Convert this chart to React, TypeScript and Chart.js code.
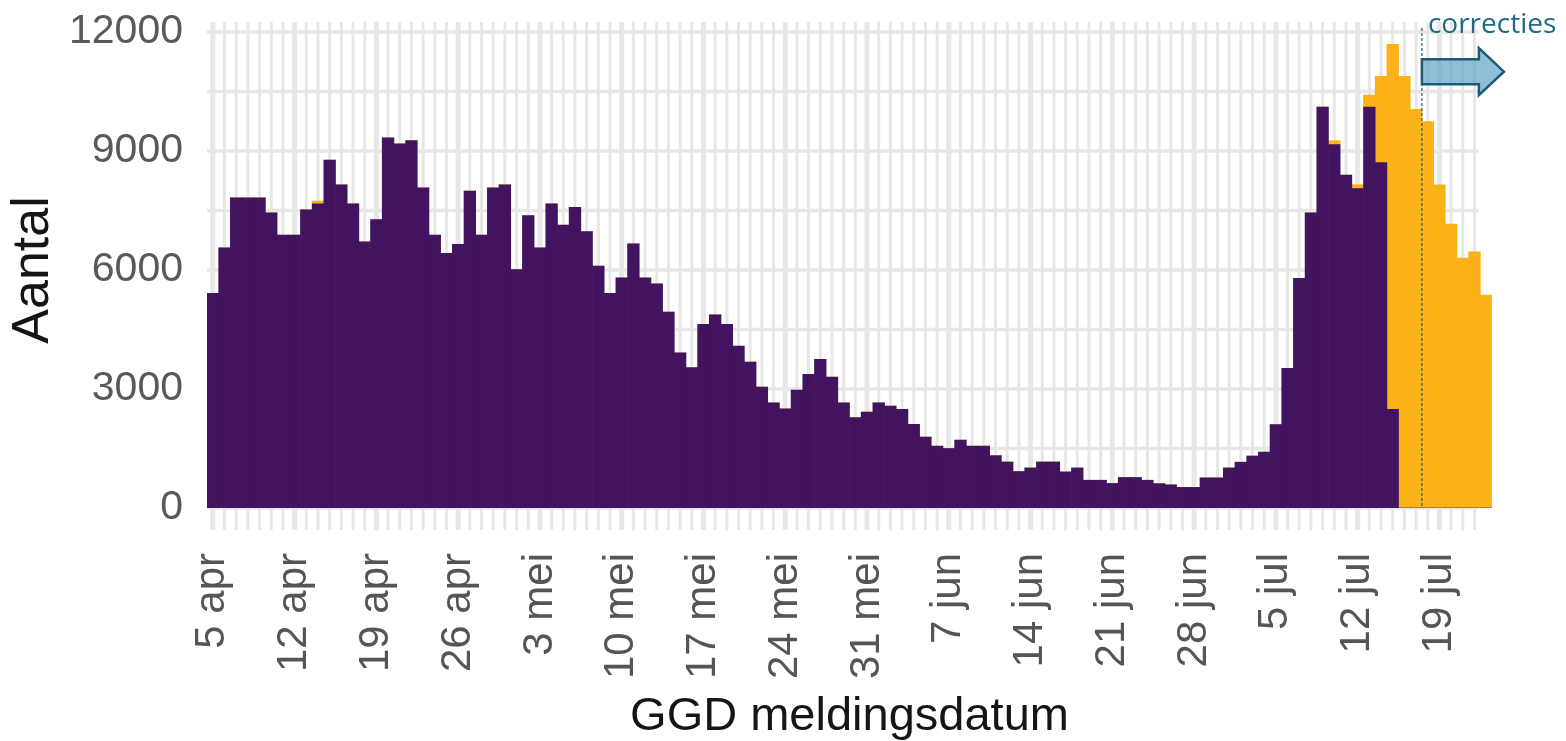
import React, { useEffect, useRef } from 'react';
import { Chart, registerables } from 'chart.js';

Chart.register(...registerables);

// Month spans of the daily categories: [month, first day, last day]
const monthSpans: [string, number, number][] = [
  ['apr', 5, 30],
  ['mei', 1, 31],
  ['jun', 1, 30],
  ['jul', 1, 23],
];
const days: string[] = [];
for (const [m, a, b] of monthSpans) for (let d = a; d <= b; d++) days.push(`${d} ${m}`);

const tickLabels = [
  '5 apr', '12 apr', '19 apr', '26 apr', '3 mei', '10 mei', '17 mei', '24 mei',
  '31 mei', '7 jun', '14 jun', '21 jun', '28 jun', '5 jul', '12 jul', '19 jul',
];

const yTickLabels = [0, 3000, 6000, 9000, 12000];

// Purple: cases reported (GGD meldingsdatum)
const gemeld = [
  5410, 6560, 7820, 7820, 7820, 7440, 6880, 6880, 7520, 7670,
  8770, 8150, 7670, 6710, 7270, 9330, 9180, 9260, 8070, 6880,
  6420, 6650, 7990, 6880, 8070, 8150, 6010, 7370, 6560, 7670,
  7130, 7580, 6970, 6100, 5410, 5800, 6660, 5800, 5650, 4940,
  3910, 3540, 4630, 4870, 4630, 4080, 3680, 3050, 2650, 2500,
  2970, 3370, 3750, 3300, 2650, 2280, 2420, 2650, 2570, 2490,
  2110, 1790, 1560, 1500, 1710, 1560, 1560, 1320, 1160, 920,
  1010, 1160, 1160, 910, 1010, 700, 700, 620, 770, 770,
  700, 615, 585, 520, 520, 760, 760, 1010, 1155, 1310,
  1410, 2100, 3520, 5790, 7440, 10110, 9160, 8390, 8050, 10110,
  8710, 2490, 0, 0, 0, 0, 0, 0, 0, 0,
];

// Orange: later corrections on top of the purple bars
const correcties = [
  0, 0, 0, 0, 0, 0, 0, 0, 0, 70,
  0, 0, 0, 0, 0, 0, 0, 0, 0, 0,
  0, 0, 0, 0, 0, 0, 0, 0, 0, 0,
  0, 0, 0, 0, 0, 0, 0, 0, 0, 0,
  0, 0, 0, 0, 0, 0, 0, 0, 0, 0,
  0, 0, 0, 0, 0, 0, 0, 0, 0, 0,
  0, 0, 0, 0, 0, 0, 0, 0, 0, 0,
  0, 0, 0, 0, 0, 0, 0, 0, 0, 0,
  0, 0, 0, 0, 0, 0, 0, 0, 0, 0,
  0, 0, 0, 0, 0, 0, 100, 0, 100, 300,
  2170, 9200, 10880, 10050, 9740, 8150, 7160, 6300, 6460, 5370,
];

const PURPLE = '#42145f';
const ORANGE = '#fbb217';
const GRID = '#e7e7e7';
const FONT = "'Liberation Sans', Arial, sans-serif";

const tickSet = new Set(tickLabels);
const gridDayCount = days.length - 1;
const cutoffIndex = 103.5;

const gridPlugin = {
  id: 'bgGrid',
  beforeDatasetsDraw(chart: any) {
    const { ctx, chartArea, scales } = chart;
    const x = scales.x;
    const y = scales.y;
    ctx.save();
    ctx.strokeStyle = GRID;
    const rightEdge = x.getPixelForValue(gridDayCount - 1) + 4;
    ctx.lineWidth = 3.5;
    for (let v = 0; v <= 12000; v += 1500) {
      const py = y.getPixelForValue(v);
      ctx.beginPath();
      ctx.moveTo(chartArea.left, py);
      ctx.lineTo(rightEdge, py);
      ctx.stroke();
    }
    for (let i = 0; i < gridDayCount; i++) {
      const px = x.getPixelForValue(i);
      ctx.lineWidth = tickSet.has(days[i]) ? 5 : 3;
      ctx.beginPath();
      ctx.moveTo(px, chartArea.top - 10);
      ctx.lineTo(px, chartArea.bottom + 22);
      ctx.stroke();
    }
    ctx.restore();
  },
};

const annotationPlugin = {
  id: 'correctiesNote',
  afterDatasetsDraw(chart: any) {
    const { ctx, chartArea, scales } = chart;
    const x = scales.x;
    const y = scales.y;
    const lx = x.getPixelForValue(cutoffIndex);
    ctx.save();
    // dashed cut-off line
    ctx.strokeStyle = '#1d5a73';
    ctx.lineWidth = 1.2;
    ctx.setLineDash([3, 2]);
    ctx.beginPath();
    ctx.moveTo(lx, y.getPixelForValue(12000) - 4);
    ctx.lineTo(lx, chartArea.bottom);
    ctx.stroke();
    ctx.setLineDash([]);

    // arrow
    const cy = y.getPixelForValue(11000);
    const shaftEnd = lx + 57;
    const tip = lx + 82;
    ctx.beginPath();
    ctx.moveTo(lx, cy - 12.5);
    ctx.lineTo(shaftEnd, cy - 12.5);
    ctx.lineTo(shaftEnd, cy - 23.5);
    ctx.lineTo(tip, cy);
    ctx.lineTo(shaftEnd, cy + 23.5);
    ctx.lineTo(shaftEnd, cy + 12.5);
    ctx.lineTo(lx, cy + 12.5);
    ctx.closePath();
    ctx.fillStyle = 'rgba(95,158,196,0.68)';
    ctx.fill();
    ctx.strokeStyle = '#1d5a73';
    ctx.lineWidth = 2.5;
    ctx.lineJoin = 'miter';
    ctx.stroke();

    // label
    ctx.fillStyle = '#1f6a82';
    ctx.font = "28px 'Open Sans', 'DejaVu Sans', sans-serif";
    ctx.textAlign = 'left';
    ctx.textBaseline = 'alphabetic';
    ctx.fillText('correcties', lx + 6, y.getPixelForValue(12000) + 1);
    ctx.restore();
  },
};

export default function App() {
  const canvasRef = useRef<HTMLCanvasElement | null>(null);

  useEffect(() => {
    const canvas = canvasRef.current;
    if (!canvas) return;
    const chart = new Chart(canvas, {
      type: 'bar',
      data: {
        labels: days,
        datasets: [
          {
            label: 'Gemeld',
            data: gemeld,
            backgroundColor: PURPLE,
            borderWidth: 0,
            categoryPercentage: 1,
            barPercentage: 1,
          },
          {
            label: 'Correcties',
            data: correcties,
            backgroundColor: ORANGE,
            borderWidth: 0,
            categoryPercentage: 1,
            barPercentage: 1,
          },
        ],
      },
      options: {
        responsive: false,
        maintainAspectRatio: false,
        animation: false,
        devicePixelRatio: 1,
        layout: { padding: { left: 0, right: 74, top: 32, bottom: 0 } },
        plugins: {
          legend: { display: false },
          tooltip: { enabled: false },
        },
        scales: {
          x: {
            stacked: true,
            grid: { display: false, drawTicks: false },
            border: { display: false },
            ticks: {
              autoSkip: false,
              minRotation: 90,
              maxRotation: 90,
              padding: 45,
              color: '#555555',
              font: { family: FONT, size: 42 },
              callback: (_v: any, i: number) => (tickSet.has(days[i]) ? days[i] : ''),
            },
            title: {
              display: true,
              text: 'GGD meldingsdatum',
              color: '#151515',
              font: { family: FONT, size: 47, lineHeight: 1 },
              padding: { top: 0, bottom: 0 },
            },
            afterFit: (s: any) => {
              s.height = 233;
              s.paddingLeft = 0;
              s.paddingRight = 0;
            },
          },
          y: {
            stacked: true,
            min: 0,
            max: 12000,
            grid: { display: false, drawTicks: false },
            border: { display: false },
            ticks: {
              stepSize: 1500,
              padding: 24,
              color: '#595959',
              font: { family: FONT, size: 41 },
              callback: (v: any) => (yTickLabels.includes(Number(v)) ? String(v) : ''),
            },
            title: {
              display: true,
              text: 'Aantal',
              color: '#151515',
              font: { family: FONT, size: 52, lineHeight: 1 },
              padding: { top: 8, bottom: 0 },
            },
            afterFit: (s: any) => {
              s.width = 207;
              s.paddingTop = 0;
              s.paddingBottom = 0;
            },
          },
        },
      } as any,
      plugins: [gridPlugin, annotationPlugin],
    });
    return () => chart.destroy();
  }, []);

  return (
    <div style={{ position: 'fixed', left: 0, top: 0, width: 1566, height: 741, background: '#ffffff' }}>
      <canvas ref={canvasRef} width={1566} height={741} style={{ display: 'block' }} />
    </div>
  );
}
